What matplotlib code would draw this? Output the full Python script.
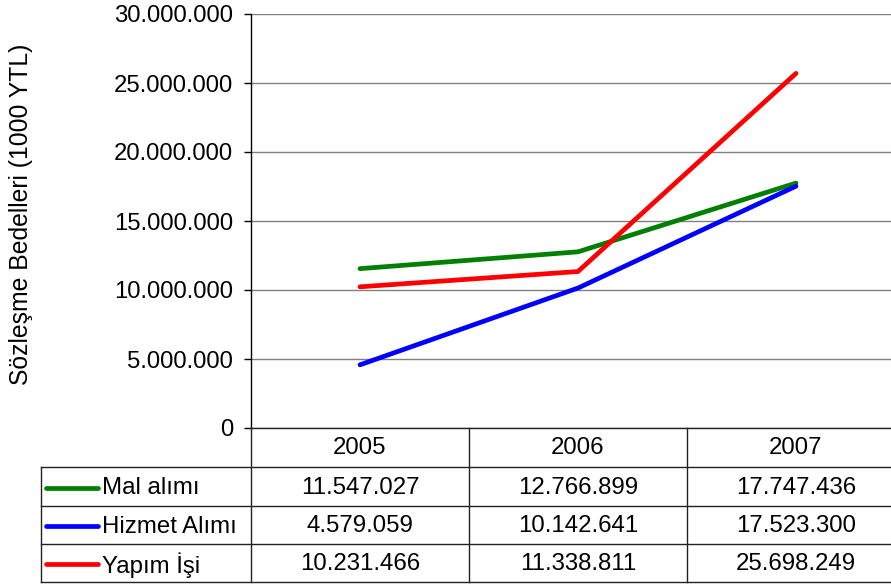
import matplotlib
matplotlib.use("Agg")
import matplotlib.pyplot as plt
from matplotlib.ticker import FuncFormatter, MultipleLocator

plt.rcParams['font.family'] = ['Liberation Sans', 'DejaVu Sans']

years = ["2005", "2006", "2007"]
series_names = ["Mal alımı", "Hizmet Alımı", "Yapım İşi"]
mal_alimi = [11547027, 12766899, 17747436]
hizmet_alimi = [4579059, 10142641, 17523300]
yapim_isi = [10231466, 11338811, 25698249]
series_values = [mal_alimi, hizmet_alimi, yapim_isi]
series_colors = ["#008000", "#0000FF", "#FF0000"]
ylabel = "Sözleşme Bedelleri (1000 YTL)"

def fmt(v):
    return f"{int(v):,}".replace(",", ".")

W, H = 891, 585
fig = plt.figure(figsize=(W / 100, H / 100), dpi=100)

# main plot axes (pixel geometry)
px_left, px_right, px_top, px_bot = 251, 905, 14, 428
ax = fig.add_axes([px_left / W, 1 - px_bot / H, (px_right - px_left) / W, (px_bot - px_top) / H])
xs = list(range(len(years)))
for vals, col in zip(series_values, series_colors):
    ax.plot(xs, vals, color=col, lw=3.4, solid_capstyle='round', zorder=3)
ax.set_xlim(-0.5, len(years) - 0.5)
ax.set_ylim(0, 30000000)
ax.yaxis.set_major_locator(MultipleLocator(5000000))
ax.yaxis.set_major_formatter(FuncFormatter(lambda v, p: fmt(v)))
ax.set_xticks([])
ax.grid(axis='y', color='#808080', lw=1.0)
ax.set_axisbelow(True)
for s in ['top', 'right', 'bottom']:
    ax.spines[s].set_visible(False)
ax.spines['left'].set_color('black')
ax.spines['left'].set_linewidth(1.0)
ax.tick_params(axis='y', length=5, width=1, color='black', pad=8, labelsize=17.2)
ax.set_ylabel(ylabel, fontsize=17.8)
ax.yaxis.set_label_coords(-(251 - 21) / (px_right - px_left), 0.515)
ax.yaxis.label.set_va('center')

# table overlay in pixel coords
tb = fig.add_axes([0, 0, 1, 1])
tb.set_xlim(0, W)
tb.set_ylim(H, 0)
tb.axis('off')
tb.patch.set_alpha(0)

col_w = (px_right - px_left) / len(years)
tbl_left = 41
row_edges = [428, 467, 506, 544, 582]
lc = '#222222'
tb.plot([px_left, W], [row_edges[0]] * 2, color=lc, lw=1.0)
for y in row_edges[1:]:
    tb.plot([tbl_left, W], [y, y], color=lc, lw=1.0)
tb.plot([tbl_left, tbl_left], [row_edges[1], row_edges[-1]], color=lc, lw=1.0)
for i in range(len(years) + 1):
    x = px_left + i * col_w
    tb.plot([x, x], [row_edges[0], row_edges[-1]], color=lc, lw=1.0)

fs = 17.3
for i, yr in enumerate(years):
    tb.text(px_left + (i + 0.5) * col_w, (row_edges[0] + row_edges[1]) / 2 + 1, yr,
            ha='center', va='center', fontsize=fs)
for r, (name, vals, col) in enumerate(zip(series_names, series_values, series_colors)):
    yc = (row_edges[r + 1] + row_edges[r + 2]) / 2 + 1
    tb.plot([46, 98], [yc, yc], color=col, lw=3.4, solid_capstyle='round')
    tb.text(102, yc + 1, name, ha='left', va='center', fontsize=fs)
    for i, v in enumerate(vals):
        tb.text(px_left + (i + 0.5) * col_w, yc, fmt(v), ha='center', va='center', fontsize=fs)

fig.savefig("out.png", dpi=100)
